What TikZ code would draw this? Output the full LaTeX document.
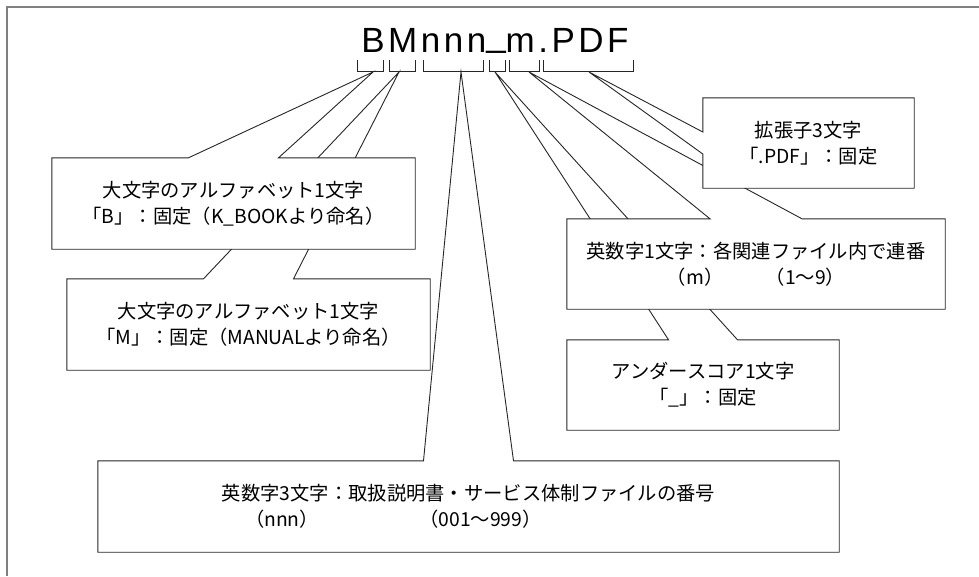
\documentclass[tikz,border=0pt]{standalone}
\usepackage{fontspec}
\setmainfont{Noto Sans CJK JP}
\newfontfamily\titlefont[LetterSpace=10]{Liberation Sans}
\usetikzlibrary{positioning}
\tikzset{
  box/.style={rectangle, fill=white, inner sep=0pt, align=center,
    font=\fontsize{19.3}{26}\selectfont},
  outline/.style={draw=black!85, line width=0.9pt},
  bracket/.style={draw=black!85, line width=0.9pt},
  frame/.style={draw=black!50, line width=2pt}
}
% box outline with a wedge from the middle of its top (or left) side to a tip
\newcommand{\calltop}[3]{%
  \fill[white] ([xshift=-#2]#1.north) -- (#3) -- ([xshift=#2]#1.north) -- cycle;
  \draw[outline] (#1.north west) -- ([xshift=-#2]#1.north) -- (#3) -- ([xshift=#2]#1.north)
    -- (#1.north east) |- (#1.south west) -- cycle;}
\newcommand{\callleft}[3]{%
  \fill[white] ([yshift=#2]#1.west) -- (#3) -- ([yshift=-#2]#1.west) -- cycle;
  \draw[outline] (#1.north west) -- ([yshift=#2]#1.west) -- (#3) -- ([yshift=-#2]#1.west)
    -- (#1.south west) -| (#1.north east) -- cycle;}

\begin{document}
\begin{tikzpicture}[x=1pt,y=-1pt,node distance=121pt,on grid]
\useasboundingbox (0,0) rectangle (979,576);
\draw[frame] (979,6.5) -- (7,6.5) -- (7,576);

\node[anchor=base, font=\titlefont\fontsize{35}{40}\selectfont] (title) at (495,52)
  {BMnnn\raisebox{6pt}{\_}m.PDF};

% pointer tips under the brackets
\coordinate (tipB)   at (373,72);
\coordinate (tipM)   at (399,72);
\coordinate (tipN)   at (461,72);
\coordinate (tipU)   at (495,72);
\coordinate (tipm)   at (529,72);
\coordinate (tipPDF) at (589,72);

\node[box, minimum width=741pt, minimum height=91pt] (boxN) at (468.5,506.5)
  {英数字3文字：取扱説明書・サービス体制ファイルの番号\\（nnn）\hspace{5.2em}（001～999）\hspace*{7.8em}};
\calltop{boxN}{45pt}{tipN}

\node[box, minimum width=272pt, minimum height=90pt] (boxU) at (703,385)
  {アンダースコア1文字\\「\_」：固定};
\calltop{boxU}{34.5pt}{tipU}
\node[box, minimum width=378pt, minimum height=90pt, above right=121pt and 53pt of boxU] (boxm)
  {英数字1文字：各関連ファイル内で連番\\（m）\hspace{2.2em}（1～9）};
\calltop{boxm}{46pt}{tipm}
\node[box, minimum width=211pt, minimum height=90pt] (boxPDF) at (808.5,143)
  {拡張子3文字\\「.PDF」：固定};
\callleft{boxPDF}{11pt}{tipPDF}

\node[box, minimum width=363pt, minimum height=91pt] (boxM) at (248.5,324.5)
  {大文字のアルファベット1文字\\「M」：固定（MANUALより命名）};
\calltop{boxM}{45pt}{tipM}
\node[box, minimum width=363pt, minimum height=91pt, above left=121pt and 15pt of boxM] (boxB)
  {大文字のアルファベット1文字\\「B」：固定（K\_BOOKより命名）};
\calltop{boxB}{45pt}{tipB}

% brackets under the file name
\foreach \a/\b in {357/383, 389/415, 423/483, 489/505, 509/539, 543/633}
  \draw[bracket] (\a,60) |- (\b,71) -- (\b,60);
\end{tikzpicture}
\end{document}
